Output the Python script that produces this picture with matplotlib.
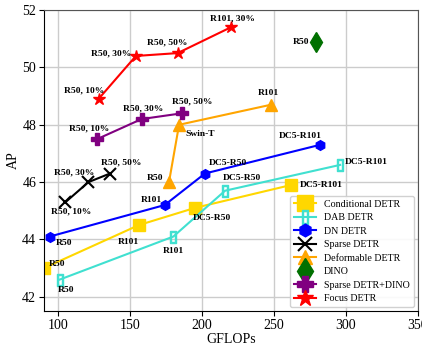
import matplotlib
matplotlib.use('Agg')
import matplotlib.pyplot as plt

plt.rcParams['font.family'] = ['Liberation Serif', 'DejaVu Serif']
plt.rcParams['mathtext.fontset'] = 'dejavusans'

# GFLOPs / AP for each detector, with the text shown next to each point
cond_x = [90, 156, 195, 262]
cond_y = [43.0, 44.5, 45.1, 45.9]
cond_lab = ['R50', 'R101', 'DC5-R50', 'DC5-R101']

dab_x = [101, 180, 216, 296]
dab_y = [42.6, 44.1, 45.7, 46.6]
dab_lab = ['R50', 'R101', 'DC5-R50', 'DC5-R101']

dn_x = [94, 174, 202, 282]
dn_y = [44.1, 45.2, 46.3, 47.3]
dn_lab = ['R50', 'R101', 'DC5-R50', 'DC5-R101']

sparse_x = [105, 121, 136]
sparse_y = [45.3, 46.0, 46.3]
sparse_lab = ['R50, 10%', 'R50, 30%', 'R50, 50%']

deform_x = [177, 184, 248]
deform_y = [46.0, 48.0, 48.7]
deform_lab = ['R50', 'Swin-T', 'R101']

dino_x = [279]
dino_y = [50.9]
dino_lab = ['R50']

sdino_x = [127, 158, 186]
sdino_y = [47.5, 48.2, 48.4]
sdino_lab = ['R50, 10%', 'R50, 30%', 'R50, 50%']

focus_x = [128, 154, 183, 220]
focus_y = [48.9, 50.4, 50.5, 51.4]
focus_lab = ['R50, 10%', 'R50, 30%', 'R50, 50%', 'R101, 30%']

series = [
    ('Conditional DETR', '#FFD700', 's', 9, cond_x, cond_y, cond_lab,
     [(5, 4, 'left'), (-10, -17, 'center'), (17, -10, 'center'), (9, 0, 'left')]),
    ('DAB DETR', '#40E0D0', '$\u25AF$', 8, dab_x, dab_y, dab_lab,
     [(6, -10, 'center'), (0, -14, 'center'), (17, 13, 'center'), (5, 3, 'left')]),
    ('DN DETR', 'blue', 'h', 7, dn_x, dn_y, dn_lab,
     [(6, -6, 'left'), (-13, 5, 'center'), (23, 11, 'center'), (-20, 9, 'center')]),
    ('Sparse DETR', 'black', 'x', 8, sparse_x, sparse_y, sparse_lab,
     [(6, -9, 'center'), (-14, 10, 'center'), (11, 11, 'center')]),
    ('Deformable DETR', '#FFA500', '^', 8, deform_x, deform_y, deform_lab,
     [(-6, 4, 'right'), (21, -9, 'center'), (-3, 12, 'center')]),
    ('DINO', '#007000', 'd', 10, dino_x, dino_y, dino_lab,
     [(-6, 0, 'right')]),
    ('Sparse DETR+DINO', '#800080', 'P', 9, sdino_x, sdino_y, sdino_lab,
     [(-8, 11, 'center'), (1, 11, 'center'), (10, 12, 'center')]),
    ('Focus DETR', 'red', '*', 9, focus_x, focus_y, focus_lab,
     [(-14, 9, 'center'), (-5, 3, 'right'), (-10, 11, 'center'), (2, 9, 'center')]),
]

fig = plt.figure(figsize=(4.22, 3.48), dpi=100)
ax = fig.add_axes([0.104, 0.106, 0.886, 0.865])

for name, col, mk, ms, xs, ys, labs, offs in series:
    ls = '-' if len(xs) > 1 else 'none'
    mew = 1.5 if mk == 'x' else 1
    ax.plot(xs, ys, color=col, marker=mk, markersize=ms, linestyle=ls,
            linewidth=1.5, label=name, markeredgewidth=mew)
    for x, y, lab, (dx, dy, ha) in zip(xs, ys, labs, offs):
        ax.annotate(lab, (x, y), xytext=(dx, dy), textcoords='offset pixels',
                    ha=ha, va='center', fontsize=6.8, fontweight='bold')

ax.set_xlim(90, 350)
ax.set_ylim(41.5, 52)
ax.set_xticks([100, 150, 200, 250, 300, 350])
ax.set_yticks([42, 44, 46, 48, 50, 52])
ax.tick_params(labelsize=10, pad=2)
ax.grid(True, color='#cccccc', linewidth=1)
ax.set_axisbelow(True)
ax.set_xlabel('GFLOPs', fontsize=10, labelpad=1)
ax.set_ylabel('AP', fontsize=10, labelpad=2)
for s in ['top', 'right']:
    ax.spines[s].set_color('#555555')

ax.legend(loc='lower right', fontsize=7.2, markerscale=1.3, framealpha=0.9,
          borderpad=0.4, labelspacing=0.45, handlelength=2.2,
          borderaxespad=0.4, fancybox=True)

fig.savefig('out.png', dpi=100)
